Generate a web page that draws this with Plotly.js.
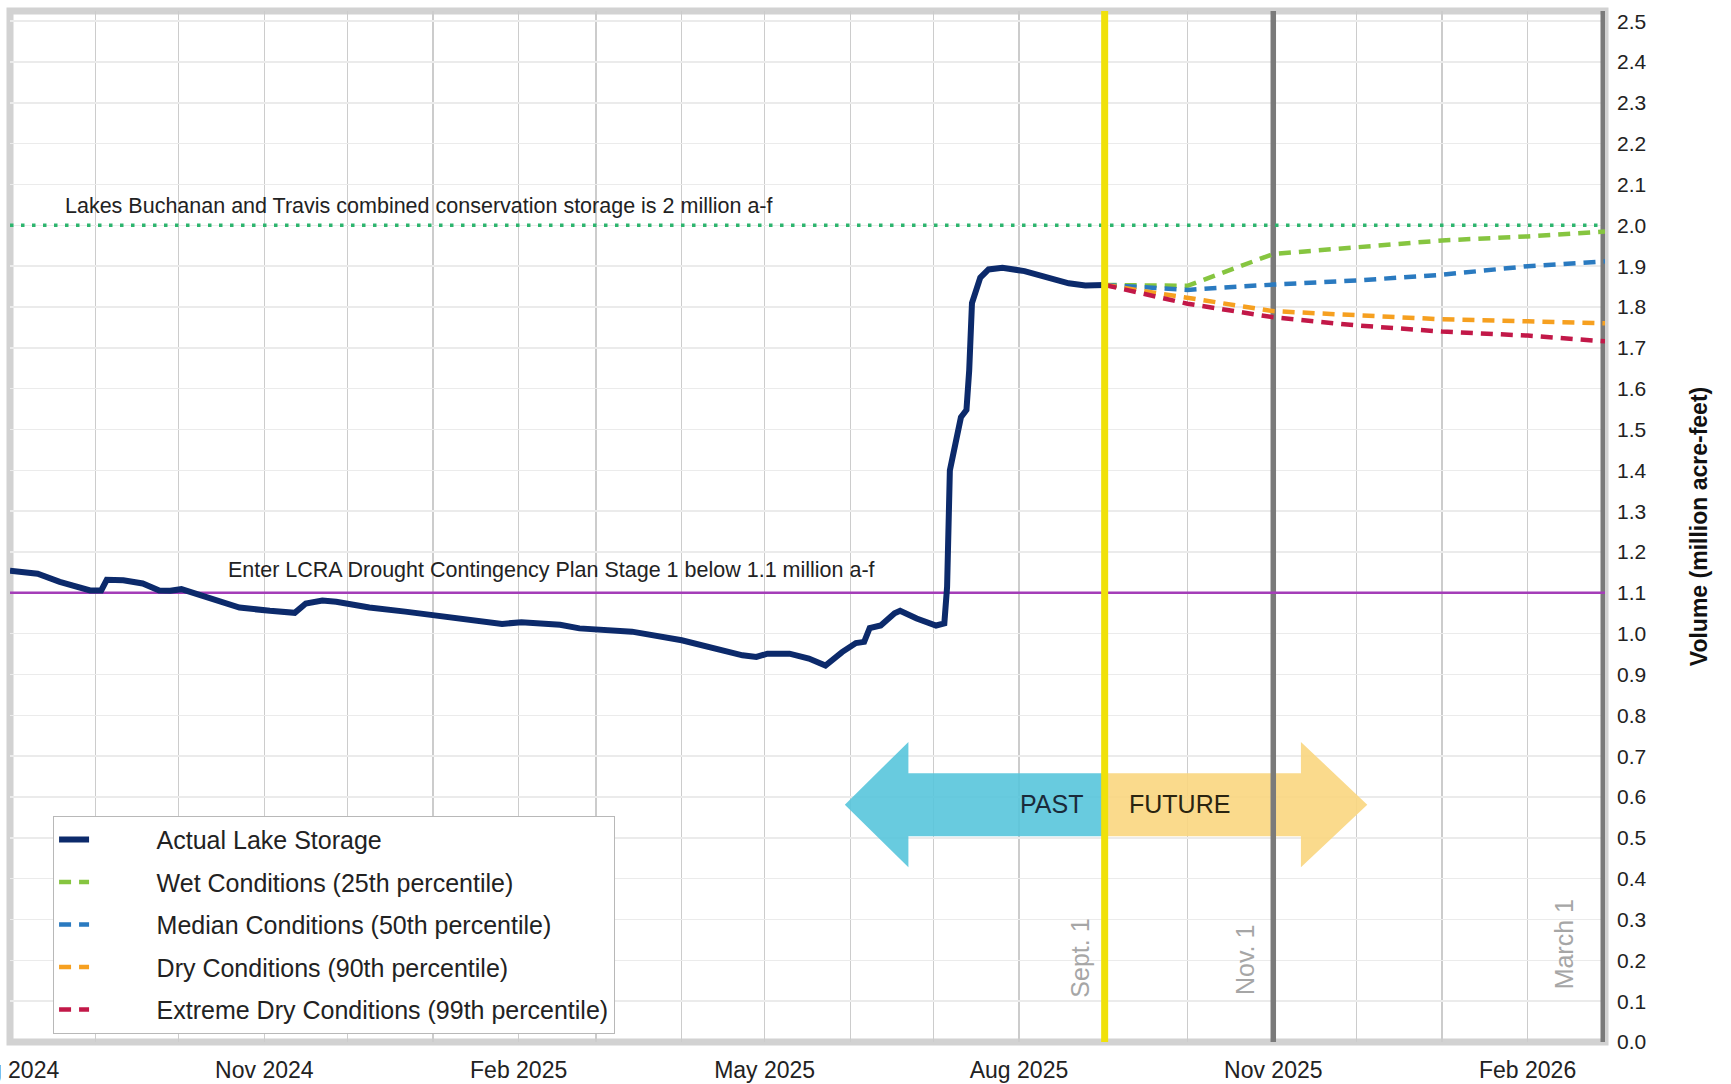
<!DOCTYPE html>
<html>
<head>
<meta charset="utf-8">
<script src="https://cdn.plot.ly/plotly-3.0.1.min.js"></script>
<style>
html,body{margin:0;padding:0;background:#fff;}
#chart{width:1731px;height:1084px;}
</style>
</head>
<body>
<div id="chart"></div>
<script>
// ---- Data ----
const actualDates = ['2024-08-01','2024-08-03','2024-08-11','2024-08-19','2024-08-30','2024-09-03','2024-09-05','2024-09-11','2024-09-18','2024-09-24','2024-09-28','2024-10-02','2024-10-06','2024-10-15','2024-10-23','2024-11-03','2024-11-12','2024-11-16','2024-11-22','2024-11-27','2024-12-09','2024-12-22','2025-01-05','2025-01-12','2025-01-26','2025-02-02','2025-02-16','2025-02-23','2025-03-04','2025-03-14','2025-04-01','2025-04-14','2025-04-23','2025-04-28','2025-05-02','2025-05-10','2025-05-17','2025-05-23','2025-05-29','2025-06-03','2025-06-06','2025-06-08','2025-06-12','2025-06-17','2025-06-19','2025-06-25','2025-07-02','2025-07-05','2025-07-06','2025-07-07','2025-07-09','2025-07-11','2025-07-13','2025-07-14','2025-07-15','2025-07-18','2025-07-21','2025-07-26','2025-08-03','2025-08-12','2025-08-19','2025-08-25','2025-09-01'];
const actualValues = [1.154,1.153,1.147,1.127,1.106,1.106,1.132,1.131,1.123,1.106,1.105,1.109,1.100,1.080,1.064,1.056,1.051,1.074,1.081,1.078,1.064,1.054,1.042,1.035,1.024,1.028,1.022,1.013,1.008,1.005,0.984,0.963,0.947,0.943,0.951,0.951,0.939,0.922,0.955,0.977,0.980,1.014,1.020,1.050,1.056,1.037,1.020,1.025,1.115,1.400,1.475,1.530,1.548,1.645,1.810,1.872,1.892,1.896,1.888,1.872,1.858,1.853,1.854];

const projDates = ['2025-09-01','2025-10-01','2025-11-01','2025-12-01','2026-01-01','2026-02-01','2026-03-01'];
const wetValues     = [1.854,1.852,1.930,1.946,1.963,1.973,1.985];
const medianValues  = [1.854,1.842,1.855,1.865,1.879,1.900,1.912];
const dryValues     = [1.854,1.822,1.790,1.780,1.770,1.765,1.760];
const extremeValues = [1.854,1.808,1.775,1.755,1.740,1.730,1.716];

const seriesNames = ['Actual Lake Storage','Wet Conditions (25th percentile)','Median Conditions (50th percentile)','Dry Conditions (90th percentile)','Extreme Dry Conditions (99th percentile)'];

const conservationLevel = 2.0;
const droughtLevel = 1.1;
const xStart = '2024-08-01';
const xEnd = '2026-03-01';
const sept1 = '2025-09-01';
const nov1 = '2025-11-01';
const march1 = '2026-03-01';

// arrow outline (dates / values)
const pastArrowX = ['2025-05-30','2025-06-22','2025-06-22',sept1,sept1,'2025-06-22','2025-06-22','2025-05-30'];
const pastArrowY = [0.581,0.735,0.658,0.658,0.504,0.504,0.428,0.581];
const futureArrowX = [sept1,'2025-11-11','2025-11-11','2025-12-05','2025-11-11','2025-11-11',sept1,sept1];
const futureArrowY = [0.658,0.658,0.735,0.581,0.428,0.504,0.504,0.658];

const FONT = 'Liberation Sans, Arial, sans-serif';
const PROJ_DASH = '12px,8px';
const PAD = '\u00A0'.repeat(9);

function vline(x, color, width){
  return {x:[x,x], y:[0,2.6], mode:'lines', line:{color:color,width:width}, showlegend:false, hoverinfo:'skip'};
}
function hline(y, color, width, dash){
  return {x:[xStart,xEnd], y:[y,y], mode:'lines', line:{color:color,width:width,dash:dash}, showlegend:false, hoverinfo:'skip'};
}

const traces = [
  {x:pastArrowX, y:pastArrowY, mode:'lines', fill:'toself', fillcolor:'rgba(88,197,220,0.9)', line:{width:0,color:'rgba(0,0,0,0)'}, showlegend:false, hoverinfo:'skip'},
  {x:futureArrowX, y:futureArrowY, mode:'lines', fill:'toself', fillcolor:'rgba(250,214,128,0.9)', line:{width:0,color:'rgba(0,0,0,0)'}, showlegend:false, hoverinfo:'skip'},
  vline(nov1,'#7a7a7a',5.5),
  vline(march1,'#7a7a7a',9),
  hline(conservationLevel,'#2db56e',3.5,'3.5px,7.5px'),
  hline(droughtLevel,'#a43db8',2.5,'solid'),
  {x:actualDates, y:actualValues, name:PAD+seriesNames[0], mode:'lines', line:{color:'#0c2a6b',width:6}, legendgroup:'a'},
  {x:projDates, y:wetValues, name:PAD+seriesNames[1], mode:'lines', line:{color:'#86c540',width:4.5,dash:PROJ_DASH}, legendgroup:'b'},
  {x:projDates, y:medianValues, name:PAD+seriesNames[2], mode:'lines', line:{color:'#2a7ac0',width:4.5,dash:PROJ_DASH}, legendgroup:'c'},
  {x:projDates, y:dryValues, name:PAD+seriesNames[3], mode:'lines', line:{color:'#f6a020',width:4.5,dash:PROJ_DASH}, legendgroup:'d'},
  {x:projDates, y:extremeValues, name:PAD+seriesNames[4], mode:'lines', line:{color:'#c21848',width:4.5,dash:PROJ_DASH}, legendgroup:'e'},
  vline(sept1,'#f0e10a',7)
];

const layout = {
  width:1731, height:1084,
  margin:{l:10, r:126, t:11, b:42},
  paper_bgcolor:'#fff', plot_bgcolor:'#fff',
  font:{family:FONT, color:'#222'},
  showlegend:true,
  legend:{
    x:0.027, y:0.008, xanchor:'left', yanchor:'bottom',
    bgcolor:'#fff', bordercolor:'#b8b8b8', borderwidth:1,
    font:{family:FONT, size:25, color:'#222'},
    traceorder:'grouped', tracegroupgap:7, itemwidth:30
  },
  xaxis:{
    type:'date', range:[xStart,xEnd],
    tick0:'2024-08-01', dtick:'M3', tickformat:'%b %Y',
    ticks:'', showgrid:true, gridcolor:'#cccccc', gridwidth:1.3,
    minor:{dtick:'M1', showgrid:true, gridcolor:'#cccccc', gridwidth:1.3},
    tickfont:{family:FONT, size:23, color:'#222'},
    ticklabelstandoff:12, ticklabeloverflow:'allow',
    zeroline:false, showline:false, fixedrange:true
  },
  yaxis:{
    side:'right', range:[0,2.525], dtick:0.1, tick0:0, tickformat:'.1f',
    showgrid:true, gridcolor:'#ebebeb', gridwidth:1.5,
    tickfont:{family:FONT, size:21, color:'#222'},
    ticks:'', ticklabelstandoff:11, zeroline:false, showline:false,
    title:{text:'<b>Volume (million acre-feet)</b>', font:{family:FONT, size:23, color:'#111'}, standoff:45}
  },
  shapes:[
    {type:'rect', xref:'paper', yref:'paper', x0:0, x1:1, y0:0, y1:1, line:{color:'#d2d2d2', width:7}, layer:'below'}
  ],
  annotations:[
    {x:'2024-08-20', y:2.047, xref:'x', yref:'y', text:'Lakes Buchanan and Travis combined conservation storage is 2 million a-f', showarrow:false, xanchor:'left', yanchor:'middle', font:{family:FONT, size:21.5, color:'#222'}},
    {x:'2024-10-18', y:1.155, xref:'x', yref:'y', text:'Enter LCRA Drought Contingency Plan Stage 1 below 1.1 million a-f', showarrow:false, xanchor:'left', yanchor:'middle', font:{family:FONT, size:21.5, color:'#222'}},
    {x:'2025-08-25', y:0.582, xref:'x', yref:'y', text:'PAST', showarrow:false, xanchor:'right', yanchor:'middle', font:{family:FONT, size:25, color:'#1a2a3a'}},
    {x:'2025-09-09', y:0.582, xref:'x', yref:'y', text:'FUTURE', showarrow:false, xanchor:'left', yanchor:'middle', font:{family:FONT, size:25, color:'#2a2410'}},
    {x:'2025-08-23', y:0.206, xref:'x', yref:'y', text:'Sept. 1', textangle:-90, showarrow:false, font:{family:FONT, size:25, color:'#a6a6a6'}},
    {x:'2025-10-22', y:0.2, xref:'x', yref:'y', text:'Nov. 1', textangle:-90, showarrow:false, font:{family:FONT, size:25, color:'#a6a6a6'}},
    {x:'2026-02-14', y:0.238, xref:'x', yref:'y', text:'March 1', textangle:-90, showarrow:false, font:{family:FONT, size:25, color:'#a6a6a6'}}
  ]
};

Plotly.newPlot('chart', traces, layout, {displayModeBar:false, staticPlot:true});
</script>
</body>
</html>
